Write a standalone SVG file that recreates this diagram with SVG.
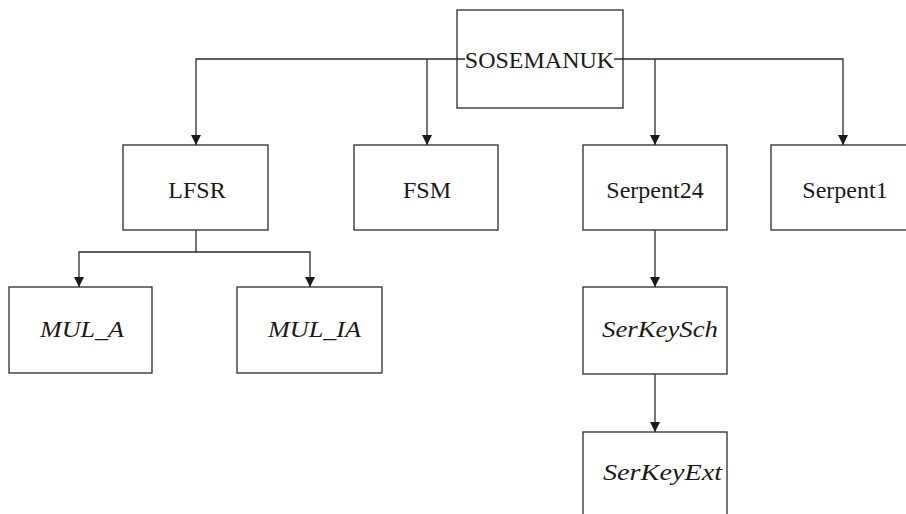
<svg xmlns="http://www.w3.org/2000/svg" width="906" height="514" viewBox="0 0 906 514">
  <defs>
    <marker id="arrow" viewBox="0 0 10 10" refX="10" refY="5" markerWidth="10" markerHeight="10" markerUnits="userSpaceOnUse" orient="auto">
      <path d="M0,0 L10,5 L0,10 Z" fill="#1a1a1a"/>
    </marker>
    <style>
      .box { fill: #ffffff; stroke: #2b2b2b; stroke-width: 1.3; }
      .edge { fill: none; stroke: #2b2b2b; stroke-width: 1.3; }
      .lbl { font-family: "Liberation Serif", "Times New Roman", serif; font-size: 24px; fill: #1a1a1a; text-anchor: middle; }
      .math { font-style: italic; }
    </style>
  </defs>
  <rect width="906" height="514" fill="#ffffff"/>

  <!-- connectors -->
  <g id="connectors">
    <path class="edge" d="M465,59 H196 V145" marker-end="url(#arrow)"/>
    <path class="edge" d="M427,59 V145" marker-end="url(#arrow)"/>
    <path class="edge" d="M614,59 H843 V145" marker-end="url(#arrow)"/>
    <path class="edge" d="M655,59 V145" marker-end="url(#arrow)"/>
    <path class="edge" d="M196,230 V252 H79 V287" marker-end="url(#arrow)"/>
    <path class="edge" d="M196,252 H310 V287" marker-end="url(#arrow)"/>
    <path class="edge" d="M655,230 V287" marker-end="url(#arrow)"/>
    <path class="edge" d="M655,374 V432" marker-end="url(#arrow)"/>
  </g>

  <g id="sosemanuk">
    <rect class="box" x="457" y="10" width="166" height="98" fill="none" style="fill:none"/>
    <text class="lbl" x="539.5" y="68">SOSEMANUK</text>
  </g>

  <g id="lfsr">
    <rect class="box" x="123" y="145" width="145" height="85"/>
    <text class="lbl" x="197" y="198">LFSR</text>
  </g>

  <g id="fsm">
    <rect class="box" x="354" y="145" width="144" height="85"/>
    <text class="lbl" x="427" y="198">FSM</text>
  </g>

  <g id="serpent24">
    <rect class="box" x="583" y="145" width="144" height="85"/>
    <text class="lbl" x="655" y="198">Serpent24</text>
  </g>

  <g id="serpent1">
    <rect class="box" x="771" y="145" width="145" height="85"/>
    <text class="lbl" x="845" y="198">Serpent1</text>
  </g>

  <g id="mul_a">
    <rect class="box" x="9" y="287" width="143" height="86"/>
    <text class="lbl math" x="82" y="337" textLength="84" lengthAdjust="spacingAndGlyphs">MUL_A</text>
  </g>

  <g id="mul_ia">
    <rect class="box" x="237" y="287" width="145" height="86"/>
    <text class="lbl math" x="314.5" y="337" textLength="93" lengthAdjust="spacingAndGlyphs">MUL_IA</text>
  </g>

  <g id="serkeysch">
    <rect class="box" x="583" y="287" width="144" height="87"/>
    <text class="lbl math" x="660" y="337" textLength="116" lengthAdjust="spacingAndGlyphs">SerKeySch</text>
  </g>

  <g id="serkeyext">
    <rect class="box" x="583" y="432" width="144" height="90"/>
    <text class="lbl math" x="662.5" y="480" textLength="119" lengthAdjust="spacingAndGlyphs">SerKeyExt</text>
  </g>
</svg>
